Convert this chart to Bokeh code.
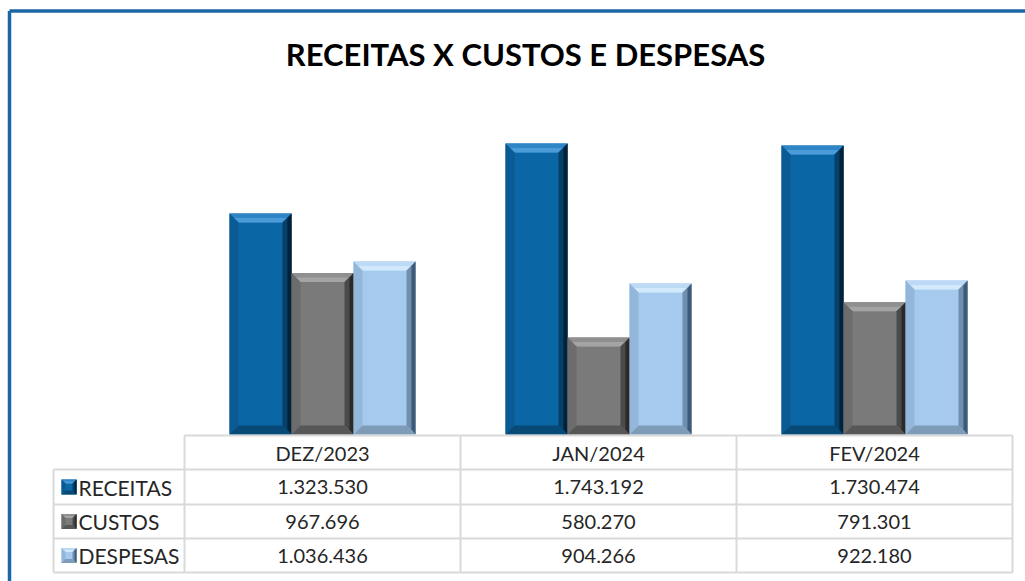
from bokeh.plotting import figure
from bokeh.models import Range1d, ColumnDataSource
from bokeh.embed import file_html
from bokeh.resources import INLINE
from bokeh.core.properties import value

# ---------------- data ----------------
categories = ["DEZ/2023", "JAN/2024", "FEV/2024"]
series_names = ["RECEITAS", "CUSTOS", "DESPESAS"]
receitas = [1323530, 1743192, 1730474]
custos = [967696, 580270, 791301]
despesas = [1036436, 904266, 922180]
title_text = "RECEITAS X CUSTOS E DESPESAS"

series_values = [receitas, custos, despesas]

# ---------------- layout / scale ----------------
W, H = 1025, 581
X0, CW = 184, 276        # left pixel of first category column, pixels per category
Y0 = 434                 # baseline pixel (from top)
YMAX = 2000000
YTOP = 100               # pixel where YMAX sits
YS = (Y0 - YTOP) / YMAX  # pixels per unit


def px(x):
    return (x - X0) / CW


def py(y):
    return (Y0 - y) / YS


p = figure(width=W, height=H,
           x_range=Range1d(px(0), px(W)), y_range=Range1d(py(H), py(0)),
           x_axis_location=None, y_axis_location=None,
           toolbar_location=None, output_backend="svg", min_border=0)
p.grid.visible = False
p.outline_line_color = None
p.background_fill_color = "white"
p.border_fill_color = "white"

# ---------------- styles ----------------
styles = {
    "RECEITAS": dict(body="#0b66a5", top="#2f86c6", top2="#4a9bd8", left="#0a5b93",
                     right="#063f68", right2="#02223a", bottom="#074a78"),
    "CUSTOS": dict(body="#7a7a7a", top="#8f8f8f", top2="#a4a4a4", left="#6c6c6c",
                   right="#4a4a4a", right2="#2a2a2a", bottom="#575757"),
    "DESPESAS": dict(body="#a6caee", top="#bcdaf6", top2="#d2e9fc", left="#93b7da",
                     right="#6f8fb0", right2="#3f5a75", bottom="#7e9bb8"),
}

BW = 62 / CW                 # bar width in category units
offsets = [-BW, 0.0, BW]
BX = 9 / CW                  # bevel horizontal size
BY = 9 / YS                  # bevel vertical size


def bevel_patches(xc, top, bottom, w, bx, by, st):
    L, R = xc - w / 2, xc + w / 2
    T, B = top, bottom
    xs, ys, cs = [], [], []
    # top bevel
    xs.append([L, R, R - bx, L + bx]); ys.append([T, T, T - by, T - by]); cs.append(st["top"])
    xs.append([L + bx * 0.5, R - bx * 0.5, R - bx, L + bx]); ys.append([T - by * 0.5, T - by * 0.5, T - by, T - by]); cs.append(st["top2"])
    # left bevel
    xs.append([L, L + bx, L + bx, L]); ys.append([T, T - by, B + by, B]); cs.append(st["left"])
    # bottom bevel
    xs.append([L, L + bx, R - bx, R]); ys.append([B, B + by, B + by, B]); cs.append(st["bottom"])
    # right bevel (two strips)
    xs.append([R - bx, R, R, R - bx]); ys.append([T - by, T, B, B + by]); cs.append(st["right"])
    xs.append([R - bx * 0.45, R, R, R - bx * 0.45]); ys.append([T - by * 0.55, T, B, B + by * 0.55]); cs.append(st["right2"])
    return xs, ys, cs


all_xs, all_ys, all_cs = [], [], []
for si, name in enumerate(series_names):
    st = styles[name]
    vals = series_values[si]
    xcs = [ci + 0.5 + offsets[si] for ci in range(len(categories))]
    src = ColumnDataSource(dict(x=xcs, top=vals))
    p.vbar(x="x", top="top", bottom=0, width=BW, source=src,
           fill_color=st["body"], line_color=None)
    for xc, v in zip(xcs, vals):
        xs, ys, cs = bevel_patches(xc, v, 0, BW, BX, BY, st)
        all_xs += xs; all_ys += ys; all_cs += cs

p.patches(xs="xs", ys="ys", fill_color="cs", line_color=None,
          source=ColumnDataSource(dict(xs=all_xs, ys=all_ys, cs=all_cs)))

# ---------------- title ----------------
p.text(x=[px(525)], y=[py(53)], text=[title_text], text_align="center",
       text_baseline="middle", text_font=value("Lato"), text_font_style="bold",
       text_font_size=value("31px"), text_color="#000000")

# ---------------- data table ----------------
GRID = "#d9d9d9"
row_edges = [435, 469, 504, 538, 572]
col_edges = [X0 + CW * i for i in range(len(categories) + 1)]
LEFT_EDGE = 53

hx0, hx1, hy0, hy1 = [], [], [], []
# top header line
hx0.append(px(col_edges[0])); hx1.append(px(col_edges[-1])); hy0.append(py(row_edges[0])); hy1.append(py(row_edges[0]))
for r in row_edges[1:]:
    hx0.append(px(LEFT_EDGE)); hx1.append(px(col_edges[-1])); hy0.append(py(r)); hy1.append(py(r))
# verticals
hx0.append(px(LEFT_EDGE)); hx1.append(px(LEFT_EDGE)); hy0.append(py(row_edges[1])); hy1.append(py(row_edges[-1]))
for c in col_edges:
    hx0.append(px(c)); hx1.append(px(c)); hy0.append(py(row_edges[0])); hy1.append(py(row_edges[-1]))
p.segment(x0=hx0, y0=hy0, x1=hx1, y1=hy1, line_color=GRID, line_width=2)

FONT = value("Lato")
FSIZE = value("20px")
LSIZE = value("21px")
TCOL = "#262626"


def fmt(v):
    return f"{v:,}".replace(",", ".")


row_centers = [(row_edges[i] + row_edges[i + 1]) / 2 for i in range(len(row_edges) - 1)]

# header
p.text(x=[ci + 0.5 for ci in range(len(categories))], y=[py(row_centers[0])] * len(categories),
       text=categories, text_align="center", text_baseline="middle",
       text_font=FONT, text_font_size=FSIZE, text_color=TCOL)

# value rows
for si, name in enumerate(series_names):
    yc = py(row_centers[si + 1])
    p.text(x=[ci + 0.5 for ci in range(len(categories))], y=[yc] * len(categories),
           text=[fmt(v) for v in series_values[si]], text_align="center",
           text_baseline="middle", text_font=FONT, text_font_size=FSIZE, text_color=TCOL)
    p.text(x=[px(78)], y=[yc], text=[name], text_align="left", text_baseline="middle",
           text_font=FONT, text_font_size=LSIZE, text_color=TCOL)
    # legend key (small bevelled square)
    st = styles[name]
    kx = px(68.5)
    kw = 15 / CW
    kt = yc + 7.5 / YS
    kb = yc - 7.5 / YS
    p.rect(x=[kx], y=[yc], width=kw, height=15 / YS, fill_color=st["body"], line_color=None)
    xs, ys, cs = bevel_patches(kx, kt, kb, kw, 4 / CW, 4 / YS, st)
    p.patches(xs=xs, ys=ys, fill_color=cs, line_color=None)

# ---------------- outer border (top + left visible) ----------------
BORDER = "#1b67a6"
p.segment(x0=[px(9), px(9)], y0=[py(10.5), py(10.5)], x1=[px(W + 5), px(9)], y1=[py(10.5), py(H + 5)],
          line_color=BORDER, line_width=3.5)

open("out.html", "w").write(file_html(p, INLINE))
